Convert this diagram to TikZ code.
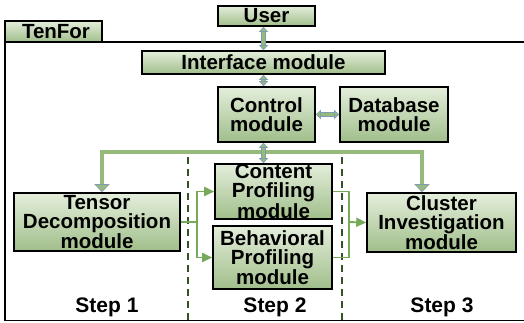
\documentclass[tikz,border=0pt]{standalone}
\usepackage{fontspec}
\setmainfont{Liberation Sans}
\usetikzlibrary{arrows.meta}
\definecolor{boxtop}{RGB}{228,238,219}
\definecolor{boxbot}{RGB}{160,190,138}
\definecolor{arrowgreen}{RGB}{150,186,122}
\definecolor{edgeblue}{RGB}{128,156,180}
\definecolor{linegreen}{RGB}{118,170,88}
\definecolor{dashgreen}{RGB}{52,82,38}

\begin{document}
\begin{tikzpicture}[x=1pt, y=-1pt,
    module/.style={draw, line width=1.6pt, top color=boxtop, bottom color=boxbot,
        font=\fontsize{20.5}{19}\selectfont\bfseries, align=center, inner sep=0pt},
    dblarrow/.style={draw=edgeblue, line width=0.7pt, double=arrowgreen, double distance=3.4pt,
        arrows={Triangle[width=9pt,length=5pt,fill=arrowgreen]-Triangle[width=9pt,length=5pt,fill=arrowgreen]}},
    busarrow/.style={dblarrow,
        arrows={Triangle[width=15pt,length=8pt,fill=arrowgreen]-Triangle[width=15pt,length=8pt,fill=arrowgreen]}},
    flow/.style={draw=linegreen, line width=1.8pt},
    steplabel/.style={font=\fontsize{21}{21}\selectfont\bfseries}]
    \useasboundingbox (0,0) rectangle (524,322);

    % outer frame and tab
    \draw[line width=1.5pt] (524,42) -- (5,42) -- (5,320.5) -- (524,320.5);
    \node[module, minimum width=97pt, minimum height=21pt, text width=63pt, align=left] (tab) at (53.5,31.5) {TenFor};

    \node[module, minimum width=97pt, minimum height=20pt] (user) at (266.5,16) {User};
    \node[module, minimum width=243pt, minimum height=23pt] (iface) at (263.5,62.5) {Interface module};
    \node[module, minimum width=97pt, minimum height=55pt] (ctrl) at (266.5,114.5) {Control\\module};
    \node[module, minimum width=108pt, minimum height=55pt] (db) at (394,114.5) {Database\\module};
    \node[module, minimum width=166pt, minimum height=58pt] (tens) at (97,222) {Tensor\\Decomposition\\module};
    \node[module, minimum width=117pt, minimum height=55pt] (cont) at (273.5,191.5) {Content\\Profiling\\module};
    \node[module, minimum width=119pt, minimum height=63pt] (behav) at (272.5,257.5) {Behavioral\\Profiling\\module};
    \node[module, minimum width=149pt, minimum height=59pt] (clus) at (441.5,222.5) {Cluster\\Investigation\\module};

    \node[steplabel] (s1) at (107,307) {Step 1};
    \node[steplabel] (s2) at (275,307) {Step 2};
    \node[steplabel] (s3) at (442,307) {Step 3};

    % step separators
    \draw[dashgreen, line width=2.2pt, dash pattern=on 7pt off 5pt] (188,157) -- (188,320);
    \draw[dashgreen, line width=2.2pt, dash pattern=on 7pt off 5pt] (342,157) -- (342,320);

    % module links
    \coordinate (bl) at (102,152);
    \coordinate (br) at (422,152);
    \draw[busarrow] (tens.north -| bl) -- (bl) -- (br) -- (clus.north -| br);
    \draw[dblarrow] (user.south -| iface.north) -- (iface.north);
    \draw[dblarrow] (iface.south) -- (iface.south |- ctrl.north);
    \draw[dblarrow] (iface.south |- ctrl.south) -- (iface.south |- cont.north);
    \draw[dblarrow] (ctrl.east) -- (db.west);

    % data flow between steps
    \coordinate (sp) at (197,222);
    \coordinate (jn) at (349,222);
    \draw[flow] (tens.east) -- (sp);
    \draw[flow, -{Triangle[width=9pt,length=10pt]}] (sp) |- (cont.west);
    \draw[flow, -{Triangle[width=9pt,length=10pt]}] (sp) |- (behav.west);
    \draw[flow] (cont.east) -| (jn) |- (behav.east);
    \draw[flow, -{Triangle[width=9pt,length=10pt]}] (jn) -- (clus.west);
\end{tikzpicture}
\end{document}
